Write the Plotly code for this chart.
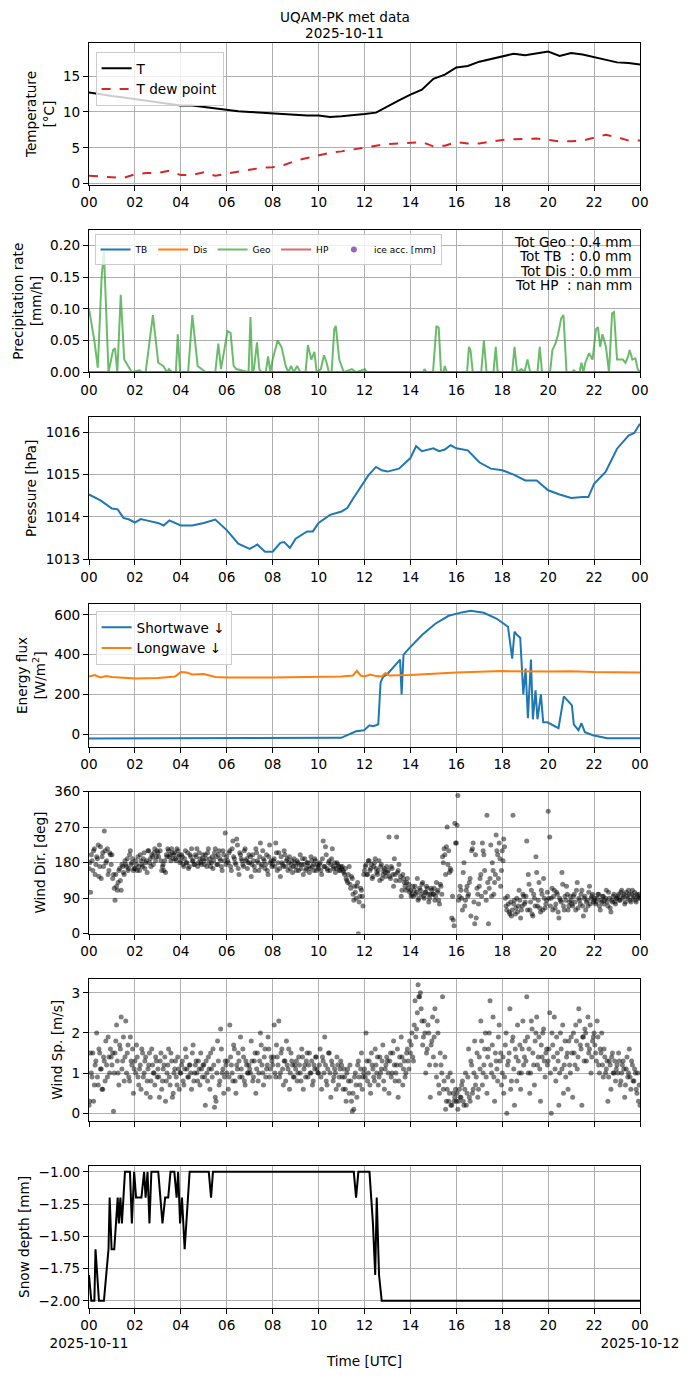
import pandas as pd
import plotly.graph_objects as go
from plotly.subplots import make_subplots

day0 = pd.Timestamp("2025-10-11 00:00")


def at(minutes):
    return day0 + pd.to_timedelta(minutes, unit="m")


# --- temperature, every 30 min ---
temp_min = list(range(0, 1441, 30))
temp = [12.7, 12.4, 12.2, 12.0, 11.8, 11.6, 11.3, 11.2, 10.9, 10.9,
        10.7, 10.5, 10.2, 10.1, 10.0, 9.9, 9.7, 9.7, 9.6, 9.5,
        9.5, 9.3, 9.4, 9.5, 9.7, 9.9, 10.8, 11.6, 12.4, 13.1,
        14.6, 15.2, 16.2, 16.4, 17.0, 17.4, 17.7, 18.1, 17.9, 18.2,
        18.4, 17.8, 18.2, 18.0, 17.6, 17.3, 16.9, 16.8, 16.6]
dew = [1.1, 1.0, 0.9, 0.8, 1.3, 1.5, 1.5, 1.8, 1.2, 1.2,
       1.6, 1.1, 1.4, 1.7, 2.0, 2.2, 2.3, 2.6, 3.2, 3.6,
       4.0, 4.3, 4.5, 4.8, 5.1, 5.3, 5.5, 5.6, 5.7, 5.8,
       5.2, 5.3, 5.8, 5.6, 5.6, 5.9, 6.1, 6.2, 6.2, 6.3,
       6.1, 5.9, 5.9, 6.0, 6.4, 6.8, 6.5, 6.0, 6.0]

# --- precipitation rate (Geo gauge) ---
geo_min = [0, 14, 23, 33, 39, 51, 63, 68, 74, 83, 92, 102, 112, 132, 140, 148,
           167, 181, 194, 204, 209, 217, 227, 232, 238, 259, 270, 284, 296, 305,
           330, 338, 345, 353, 362, 370, 378, 385, 397, 411, 417, 422, 427, 431,
           439, 445, 451, 462, 468, 474, 480, 493, 503, 514, 521, 528, 535, 544,
           552, 566, 572, 581, 589, 595, 606, 614, 621, 627, 634, 641, 645, 654,
           666, 687, 698, 721, 727, 873, 877, 882, 899, 908, 914, 920, 926, 930,
           935, 988, 993, 997, 1003, 1025, 1032, 1039, 1057, 1063, 1068, 1106,
           1112, 1119, 1130, 1138, 1146, 1153, 1172, 1178, 1184, 1205, 1211, 1219,
           1226, 1234, 1240, 1248, 1262, 1267, 1273, 1282, 1287, 1292, 1297, 1307,
           1316, 1325, 1330, 1336, 1342, 1351, 1359, 1367, 1372, 1380, 1388, 1395,
           1402, 1409, 1413, 1420, 1428, 1434, 1440]
geo = [0.100, 0.050, 0.007, 0.150, 0.190, 0.000, 0.035, 0.038, 0.000, 0.122,
       0.020, 0.010, 0.000, 0.003, 0.000, 0.000, 0.090, 0.015, 0.010, 0.000,
       0.005, 0.000, 0.000, 0.060, 0.000, 0.000, 0.090, 0.010, 0.005, 0.000,
       0.000, 0.045, 0.005, 0.035, 0.065, 0.062, 0.010, 0.005, 0.003, 0.000,
       0.000, 0.087, 0.000, 0.005, 0.047, 0.005, 0.000, 0.000, 0.025, 0.000,
       0.020, 0.050, 0.040, 0.010, 0.000, 0.010, 0.000, 0.010, 0.000, 0.000,
       0.043, 0.020, 0.032, 0.000, 0.005, 0.027, 0.015, 0.000, 0.000, 0.068,
       0.073, 0.020, 0.000, 0.005, 0.000, 0.005, 0.000, 0.000, 0.005, 0.000,
       0.000, 0.073, 0.070, 0.000, 0.000, 0.010, 0.000, 0.000, 0.040, 0.035,
       0.000, 0.000, 0.050, 0.000, 0.000, 0.040, 0.000, 0.000, 0.040, 0.000,
       0.005, 0.000, 0.020, 0.000, 0.000, 0.040, 0.000, 0.000, 0.035, 0.045,
       0.060, 0.085, 0.090, 0.000, 0.000, 0.003, 0.000, 0.000, 0.015, 0.000,
       0.015, 0.030, 0.020, 0.068, 0.071, 0.040, 0.060, 0.040, 0.000, 0.093,
       0.095, 0.020, 0.020, 0.020, 0.015, 0.025, 0.035, 0.020, 0.022, 0.005,
       0.000]
zero_min = [0, 1440]
zero_rate = [0.0, 0.0]
totals = ["Tot Geo : 0.4 mm", "Tot TB\u00a0 : 0.0 mm",
          "Tot Dis : 0.0 mm", "Tot HP\u00a0 : nan mm"]

# --- pressure ---
pres_min = [0, 30, 60, 75, 90, 105, 120, 135, 150, 180, 195, 210, 240, 270, 300,
            330, 360, 390, 420, 440, 460, 480, 500, 510, 525, 540, 570, 585, 600,
            630, 660, 675, 690, 720, 730, 750, 765, 780, 810, 840, 855, 870, 900,
            915, 930, 945, 960, 990, 1020, 1050, 1080, 1110, 1140, 1170, 1200,
            1230, 1260, 1290, 1305, 1320, 1350, 1380, 1410, 1425, 1440]
pres = [1014.53, 1014.39, 1014.20, 1014.18, 1013.98, 1013.94, 1013.87, 1013.95,
        1013.92, 1013.86, 1013.80, 1013.92, 1013.80, 1013.80, 1013.86, 1013.94,
        1013.69, 1013.37, 1013.25, 1013.35, 1013.18, 1013.18, 1013.39, 1013.41,
        1013.27, 1013.49, 1013.66, 1013.66, 1013.86, 1014.05, 1014.13, 1014.21,
        1014.43, 1014.86, 1014.98, 1015.18, 1015.10, 1015.07, 1015.14, 1015.39,
        1015.67, 1015.55, 1015.62, 1015.55, 1015.59, 1015.69, 1015.62, 1015.57,
        1015.29, 1015.14, 1015.10, 1015.00, 1014.86, 1014.86, 1014.63, 1014.53,
        1014.45, 1014.47, 1014.47, 1014.78, 1015.06, 1015.61, 1015.92, 1015.98,
        1016.20]

# --- radiation ---
sw_min = [0, 240, 480, 659, 698, 719, 733, 742, 750, 756, 762, 769, 779, 813,
          817, 822, 836, 871, 905, 940, 974, 997, 1032, 1066, 1095, 1103, 1106,
          1112, 1118, 1127, 1135, 1141, 1147, 1155, 1160, 1167, 1172, 1181, 1187,
          1198, 1227, 1241, 1262, 1267, 1279, 1287, 1296, 1317, 1354, 1440]
shortwave = [-22, -20, -20, -18, 15, 20, 45, 40, 45, 50, 260, 290, 300, 375,
             200, 400, 430, 500, 555, 595, 612, 620, 610, 580, 540, 400, 380,
             515, 500, 485, 200, 330, 80, 375, 75, 220, 75, 200, 60,
             60, 30, 190, 145, 50, 20, 55, 10, -5, -20, -20]
lw_min = [0, 15, 30, 45, 60, 120, 180, 225, 240, 255, 270, 300, 330, 360, 480,
          600, 660, 690, 700, 710, 720, 735, 750, 765, 775, 785, 840, 960, 1080,
          1200, 1260, 1320, 1440]
longwave = [290, 297, 285, 292, 287, 280, 283, 290, 312, 310, 300, 302, 288, 285,
            285, 288, 290, 295, 318, 295, 290, 300, 292, 290, 308, 295, 297, 310,
            317, 315, 316, 312, 310]

# --- wind, readings at :00,:04,:08... (a) and :02,:06,:10... (b), one row per hour ---
wind_dir_a = [
    165, 105, 185, 210, 150, 195, 225, 170, 140, 205, 260, 180, 215, 160, 200,
    200, 150, 85, 120, 130, 165, 110, 170, 150, 175, 190, 165, 210, 180, 160,
    165, 175, 195, 160, 185, 170, 205, 180, 155, 210, 190, 200, 175, 215, 195,
    205, 225, 185, 170, 160, 155, 195, 210, 200, 215, 190, 205, 185, 210, 200,
    185, 195, 170, 210, 180, 165, 200, 215, 185, 175, 195, 170, 205, 180, 190,
    185, 200, 170, 215, 190, 180, 165, 205, 195, 175, 210, 185, 160, 200, 255,
    195, 180, 210, 160, 235, 190, 175, 225, 150, 200, 185, 170, 215, 190, 180,
    180, 145, 200, 170, 215, 185, 160, 230, 175, 190, 165, 200, 150, 225, 185,
    175, 190, 230, 160, 205, 145, 180, 170, 200, 185, 160, 195, 175, 155, 190,
    170, 185, 160, 200, 175, 150, 190, 165, 180, 155, 195, 170, 160, 185, 175,
    165, 180, 150, 235, 170, 200, 160, 185, 175, 215, 165, 155, 180, 170, 160,
    165, 160, 150, 140, 130, 170, 115, 140, 85, 105, 120, 0, 95, 110, 70,
    160, 175, 150, 185, 165, 140, 170, 190, 155, 160, 135, 175, 150, 165, 145,
    155, 245, 140, 165, 120, 150, 245, 160, 135, 95, 150, 130, 110, 140, 125,
    110, 100, 95, 120, 105, 85, 115, 100, 130, 90, 105, 115, 80, 100, 110,
    100, 85, 130, 110, 75, 120, 195, 215, 150, 270, 210, 165, 40, 35, 280,
    230, 350, 95, 110, 60, 180, 85, 120, 100, 140, 210, 230, 25, 40, 100,
    120, 150, 230, 200, 105, 300, 25, 140, 95, 160, 130, 250, 200, 230, 120,
    210, 240, 90, 60, 75, 50, 45, 300, 85, 65, 55, 110, 40, 70, 95,
    80, 235, 150, 60, 110, 45, 90, 195, 70, 130, 55, 100, 140, 65, 85,
    310, 245, 90, 60, 110, 75, 100, 40, 85, 155, 70, 95, 120, 60, 80,
    85, 70, 100, 60, 130, 90, 75, 110, 45, 95, 80, 70, 120, 90, 100,
    85, 75, 90, 100, 60, 80, 95, 85, 110, 70, 90, 55, 80, 100, 75,
    90, 100, 85, 110, 95, 75, 105, 90, 100, 80, 110, 95, 85, 100, 90,
    90]
wind_dir_b = [
    180, 200, 160, 215, 175, 190, 145, 220, 195, 170, 210, 185, 150, 205, 175,
    140, 115, 150, 110, 160, 135, 175, 155, 185, 170, 160, 200, 175, 190, 165,
    185, 160, 170, 200, 175, 190, 165, 185, 210, 180, 170, 195, 205, 185, 210,
    195, 210, 160, 175, 185, 200, 215, 195, 185, 205, 200, 190, 215, 195, 180,
    200, 175, 190, 180, 205, 170, 195, 185, 175, 200, 215, 180, 190, 175, 200,
    175, 190, 205, 180, 170, 195, 185, 215, 175, 200, 190, 170, 210, 185, 175,
    185, 205, 170, 215, 195, 180, 240, 165, 205, 190, 175, 210, 185, 165, 200,
    195, 175, 185, 160, 205, 180, 195, 170, 210, 185, 175, 160, 195, 180, 170,
    185, 170, 205, 180, 165, 195, 175, 210, 170, 190, 180, 165, 185, 170, 180,
    160, 180, 175, 165, 190, 175, 160, 180, 170, 165, 185, 175, 190, 160, 170,
    175, 160, 190, 170, 220, 165, 180, 160, 190, 170, 180, 165, 175, 160, 170,
    170, 155, 165, 135, 150, 125, 145, 100, 120, 90, 130, 80, 115, 95, 150,
    170, 150, 185, 160, 175, 145, 180, 165, 150, 185, 170, 140, 160, 155, 170,
    160, 145, 170, 150, 190, 135, 155, 175, 145, 110, 140, 120, 130, 115, 105,
    95, 120, 110, 100, 140, 90, 110, 125, 95, 105, 120, 100, 90, 115, 100,
    115, 95, 105, 85, 125, 100, 180, 200, 220, 175, 155, 160, 95, 20, 230,
    275, 85, 120, 90, 155, 70, 110, 95, 130, 45, 215, 80, 200, 115, 75,
    140, 95, 210, 160, 85, 130, 115, 225, 180, 100, 150, 210, 140, 190, 160,
    185, 220, 70, 95, 55, 80, 60, 75, 50, 90, 70, 85, 60, 100, 75,
    95, 60, 125, 80, 50, 100, 70, 155, 85, 65, 110, 60, 90, 75, 105,
    90, 70, 115, 95, 65, 105, 55, 90, 80, 125, 60, 85, 100, 70, 95,
    75, 95, 80, 110, 65, 85, 100, 70, 90, 60, 85, 105, 75, 95, 80,
    90, 80, 100, 70, 85, 95, 75, 90, 80, 105, 65, 85, 95, 80, 90,
    95, 85, 105, 90, 100, 80, 95, 110, 85, 100, 90, 105, 80, 95, 100]
wind_sp_a = [
    0.2, 1.5, 0.9, 0.3, 1.2, 2.0, 0.7, 1.5, 1.1, 0.6, 1.3, 1.8, 0.9, 1.4, 1.6,
    1.2, 0.05, 1.5, 2.2, 1.0, 1.7, 2.4, 1.3, 0.8, 2.3, 1.5, 0.9, 1.9, 1.2, 0.5,
    1.3, 1.7, 0.9, 1.1, 0.6, 1.5, 1.0, 1.4, 0.8, 1.2, 0.4, 1.6, 1.0, 0.7, 1.3,
    1.1, 0.4, 1.5, 0.8, 1.2, 0.3, 1.0, 1.6, 0.7, 1.3, 0.5, 1.1, 0.9, 1.4, 0.6,
    1.0, 1.3, 0.7, 1.6, 1.1, 0.9, 1.2, 0.6, 1.7, 1.0, 1.3, 0.8, 1.1, 1.5, 0.9,
    1.2, 0.2, 1.0, 1.4, 0.6, 1.1, 1.6, 0.15, 0.3, 1.8, 0.7, 2.1, 1.0, 0.5, 1.3,
    1.0, 0.6, 2.2, 1.2, 0.8, 1.6, 0.5, 1.1, 1.3, 1.9, 0.9, 1.4, 0.7, 1.2, 1.0,
    1.1, 1.8, 0.8, 1.3, 0.5, 1.5, 1.0, 2.0, 1.2, 0.7, 1.6, 1.1, 1.9, 0.9, 1.4,
    1.2, 2.2, 0.9, 1.4, 2.3, 1.0, 1.6, 0.7, 1.3, 1.8, 1.1, 0.6, 1.5, 1.2, 0.9,
    1.1, 0.8, 1.4, 1.0, 1.6, 0.6, 1.2, 1.3, 0.9, 1.5, 1.0, 0.7, 1.2, 1.4, 1.1,
    1.0, 1.6, 0.6, 1.3, 1.9, 0.8, 1.1, 1.5, 0.4, 1.2, 0.9, 1.0, 1.4, 0.7, 1.1,
    1.2, 0.6, 0.9, 0.3, 1.1, 0.5, 0.8, 0.05, 0.1, 1.0, 0.4, 1.3, 0.7, 1.5, 0.9,
    1.1, 2.0, 0.8, 1.3, 0.5, 1.2, 0.9, 1.6, 1.0, 0.7, 1.4, 1.1, 1.7, 0.6, 1.2,
    1.3, 0.5, 1.5, 1.0, 1.8, 0.8, 1.2, 0.4, 1.4, 1.9, 0.7, 1.3, 1.0, 1.6, 1.1,
    1.5, 2.0, 1.3, 2.8, 2.1, 3.2, 2.9, 2.6, 1.7, 2.3, 1.0, 1.6, 2.0, 0.4, 1.8,
    1.4, 2.6, 0.9, 2.0, 0.5, 1.2, 2.9, 0.8, 0.1, 0.6, 0.3, 1.0, 0.2, 0.5, 0.4,
    0.3, 0.1, 0.6, 0.4, 0.8, 0.2, 1.0, 0.5, 1.6, 0.3, 1.2, 0.6, 1.8, 0.9, 0.4,
    1.4, 2.3, 0.7, 1.2, 2.0, 0.5, 1.6, 2.8, 1.0, 2.4, 0.3, 1.3, 0.8, 2.2, 1.5,
    1.0, 0.5, 1.7, 0.0, 1.3, 2.6, 0.8, 1.9, 0.2, 1.4, 2.2, 1.0, 0.6, 1.6, 1.2,
    1.8, 2.9, 1.0, 0.5, 2.3, 1.5, 0.7, 2.0, 1.2, 1.9, 0.3, 1.4, 2.1, 0.9, 1.6,
    1.3, 2.5, 0.0, 1.7, 2.4, 0.8, 1.5, 0.2, 2.0, 1.1, 0.5, 1.8, 1.4, 0.6, 1.2,
    1.9, 0.4, 1.5, 2.2, 1.1, 2.6, 1.7, 0.2, 1.9, 2.1, 1.3, 2.4, 1.6, 1.0, 1.8,
    2.0, 1.5, 2.3, 1.2, 1.6, 2.0, 0.9, 1.4, 1.1, 0.3, 1.3, 0.6, 1.5, 1.0, 0.8,
    1.2, 1.5, 0.7, 1.0, 1.3, 0.4, 1.1, 0.9, 1.6, 0.6, 1.2, 0.8, 1.0, 0.5, 0.3,
    0.2]
wind_sp_b = [
    0.3, 1.0, 1.5, 0.7, 1.3, 0.9, 1.6, 1.1, 0.6, 1.4, 0.8, 1.2, 1.9, 1.0, 1.4,
    1.5, 1.0, 1.8, 1.3, 0.7, 1.6, 1.1, 1.9, 1.4, 1.0, 1.7, 0.8, 1.3, 1.6, 1.1,
    1.0, 1.4, 0.7, 1.2, 1.6, 0.9, 1.3, 0.5, 1.1, 1.5, 0.8, 1.2, 1.0, 1.4, 0.9,
    0.9, 1.3, 0.6, 1.1, 1.4, 0.8, 1.2, 0.9, 1.5, 0.4, 1.0, 1.3, 0.7, 1.1, 1.0,
    1.2, 0.8, 1.1, 1.4, 0.9, 1.2, 1.0, 1.5, 0.8, 1.2, 1.0, 1.3, 0.7, 1.1, 1.2,
    0.9, 1.3, 0.8, 1.1, 1.5, 0.9, 1.2, 0.4, 1.0, 1.3, 0.8, 1.6, 1.1, 0.9, 1.2,
    1.3, 0.9, 1.4, 1.0, 1.7, 0.8, 1.2, 1.5, 0.9, 1.1, 1.6, 0.8, 1.3, 1.0, 1.2,
    1.0, 1.3, 0.9, 1.5, 1.1, 0.8, 1.3, 1.7, 1.0, 1.4, 0.9, 1.2, 1.6, 1.1, 1.3,
    1.4, 1.0, 1.7, 1.2, 0.9, 1.5, 1.1, 1.3, 0.8, 1.2, 1.6, 1.0, 1.3, 0.9, 1.2,
    1.3, 1.0, 1.2, 0.8, 1.4, 1.1, 0.9, 1.5, 1.2, 1.0, 1.3, 0.8, 1.1, 1.4, 1.0,
    1.2, 0.9, 1.4, 1.0, 1.2, 0.7, 1.5, 1.0, 1.3, 0.8, 1.1, 0.6, 1.2, 0.9, 1.3,
    0.9, 1.1, 0.6, 1.0, 0.8, 1.2, 0.3, 0.5, 0.9, 0.7, 1.2, 0.9, 1.1, 0.6, 1.0,
    0.9, 1.3, 1.0, 0.7, 1.5, 1.1, 0.8, 1.2, 1.4, 0.9, 1.0, 1.3, 0.8, 1.1, 1.4,
    1.0, 1.3, 0.9, 1.5, 1.2, 1.0, 1.6, 0.8, 1.2, 1.4, 1.1, 0.9, 1.5, 1.3, 1.8,
    1.7, 1.4, 2.2, 1.9, 2.5, 2.9, 3.0, 2.3, 1.9, 2.0, 1.5, 2.2, 1.2, 1.7, 2.4,
    1.9, 1.2, 2.3, 0.7, 1.5, 1.0, 0.6, 1.4, 0.3, 0.9, 0.5, 0.2, 0.8, 0.3, 0.6,
    0.5, 0.3, 0.4, 0.7, 0.3, 0.6, 0.2, 0.9, 0.4, 1.3, 0.5, 1.0, 0.7, 1.5, 0.6,
    1.1, 1.8, 1.0, 1.6, 0.9, 1.4, 2.0, 1.2, 1.7, 0.9, 1.5, 1.1, 1.9, 1.3, 0.7,
    1.4, 0.9, 2.0, 1.2, 1.5, 0.6, 1.8, 1.1, 1.6, 0.8, 1.3, 1.7, 1.0, 2.3, 1.4,
    1.3, 1.9, 1.6, 1.0, 2.1, 1.2, 1.8, 2.4, 1.4, 1.1, 1.7, 2.0, 1.3, 1.5, 1.2,
    1.6, 1.0, 2.0, 1.4, 1.1, 1.9, 1.3, 1.0, 1.6, 2.2, 1.2, 0.9, 1.5, 1.8, 1.0,
    1.5, 2.0, 1.2, 1.8, 1.4, 2.3, 1.6, 1.9, 1.3, 2.0, 1.7, 1.5, 2.2, 1.4, 1.9,
    1.7, 1.3, 1.9, 1.0, 1.5, 1.2, 1.6, 1.0, 1.3, 0.9, 1.2, 1.4, 1.0, 1.3, 1.1,
    1.0, 1.3, 0.8, 1.2, 1.1, 0.7, 1.4, 1.0, 0.9, 1.3, 0.8, 1.1, 0.6, 1.0, 0.7]
wind_time_a = pd.date_range(day0, periods=len(wind_dir_a), freq="4min")
wind_time_b = pd.date_range(day0 + pd.Timedelta(minutes=2), periods=len(wind_dir_b), freq="4min")
wind_time = wind_time_a.append(wind_time_b)

# --- snow depth ---
snow_min = [0, 6, 14, 17, 26, 39, 51, 54, 59, 66, 75, 78, 82, 86, 94, 107, 112,
            118, 123, 137, 144, 148, 153, 158, 163, 181, 192, 199, 207, 213, 223,
            229, 233, 238, 243, 250, 263, 313, 319, 324, 692, 698, 704, 733, 742,
            748, 752, 758, 765, 1440]
snow = [-1.8, -2.0, -2.0, -1.6, -2.0, -2.0, -1.6, -1.2, -1.6, -1.6, -1.2, -1.4,
        -1.2, -1.4, -1.0, -1.0, -1.4, -1.0, -1.2, -1.2, -1.0, -1.2, -1.0, -1.4,
        -1.0, -1.0, -1.4, -1.2, -1.2, -1.0, -1.0, -1.2, -1.0, -1.4, -1.2, -1.6,
        -1.0, -1.0, -1.2, -1.0, -1.0, -1.2, -1.0, -1.0, -1.4, -1.8, -1.2, -1.8,
        -2.0, -2.0]

tick_min = list(range(0, 1441, 120))
tick_text = ["00", "02", "04", "06", "08", "10", "12",
             "14", "16", "18", "20", "22", "00"]
bottom_text = ["00<br>2025-10-11"] + tick_text[1:-1] + ["00<br>2025-10-12"]

BLUE, ORANGE, GREEN, RED, PURPLE = "#1f77b4", "#ff7f0e", "#2ca02c", "#d62728", "#9467bd"
FONT = dict(family="DejaVu Sans", size=13.6, color="black")

fig = make_subplots(rows=7, cols=1, vertical_spacing=0.0356)

# panel 1
fig.add_trace(go.Scatter(x=at(temp_min), y=temp, name="T", mode="lines",
                         line=dict(color="black", width=2), legend="legend"), 1, 1)
fig.add_trace(go.Scatter(x=at(temp_min), y=dew, name="T dew point", mode="lines",
                         line=dict(color=RED, width=2, dash="dash"), legend="legend"), 1, 1)

# panel 2
fig.add_trace(go.Scatter(x=at(zero_min), y=zero_rate, name="TB", mode="lines",
                         line=dict(color=BLUE, width=2), legend="legend2"), 2, 1)
fig.add_trace(go.Scatter(x=at(zero_min), y=zero_rate, name="Dis", mode="lines",
                         line=dict(color=ORANGE, width=2), legend="legend2"), 2, 1)
fig.add_trace(go.Scatter(x=at(geo_min), y=geo, name="Geo", mode="lines", opacity=0.7,
                         line=dict(color=GREEN, width=2), legend="legend2"), 2, 1)
fig.add_trace(go.Scatter(x=at(zero_min), y=zero_rate, name="HP", mode="lines", opacity=0.7,
                         line=dict(color=RED, width=2), legend="legend2"), 2, 1)
fig.add_trace(go.Scatter(x=[None], y=[None], name="ice acc. [mm]", mode="markers",
                         marker=dict(color=PURPLE, size=6), legend="legend2"), 2, 1)

# panel 3
fig.add_trace(go.Scatter(x=at(pres_min), y=pres, mode="lines", showlegend=False,
                         line=dict(color=BLUE, width=2)), 3, 1)

# panel 4
fig.add_trace(go.Scatter(x=at(sw_min), y=shortwave, name="Shortwave \u2193", mode="lines",
                         line=dict(color=BLUE, width=2), legend="legend3"), 4, 1)
fig.add_trace(go.Scatter(x=at(lw_min), y=longwave, name="Longwave \u2193", mode="lines",
                         line=dict(color=ORANGE, width=2), legend="legend3"), 4, 1)

# panel 5, 6
fig.add_trace(go.Scatter(x=wind_time, y=wind_dir_a + wind_dir_b, mode="markers",
                         showlegend=False,
                         marker=dict(color="black", size=5, opacity=0.5)), 5, 1)
fig.add_trace(go.Scatter(x=wind_time, y=wind_sp_a + wind_sp_b, mode="markers",
                         showlegend=False,
                         marker=dict(color="black", size=5, opacity=0.5)), 6, 1)

# panel 7
fig.add_trace(go.Scatter(x=at(snow_min), y=snow, mode="lines", showlegend=False,
                         line=dict(color="black", width=2)), 7, 1)

axis_style = dict(showgrid=True, gridcolor="#b0b0b0", gridwidth=0.8, showline=True,
                  linecolor="black", linewidth=1, mirror=True, ticks="outside",
                  ticklen=5, tickcolor="black", zeroline=False, tickfont=FONT,
                  automargin=False)
for r in range(1, 8):
    fig.update_xaxes(axis_style, row=r, col=1, range=[at(0), at(1440)],
                     tickvals=at(tick_min), ticktext=bottom_text if r == 7 else tick_text,
                     showticklabels=(r != 6), tickangle=0)
    fig.update_yaxes(axis_style, row=r, col=1)

fig.update_xaxes(title=dict(text="Time [UTC]", font=FONT, standoff=6), row=7, col=1)


def ytitle(text):
    return dict(text=text, font=FONT, standoff=5)


fig.update_yaxes(row=1, col=1, range=[-0.2, 19.6], dtick=5,
                 title=ytitle("Temperature<br>[°C]"))
fig.update_yaxes(row=2, col=1, range=[0, 0.224], dtick=0.05, tickformat=".2f",
                 title=ytitle("Precipitation rate<br>[mm/h]"))
fig.update_yaxes(row=3, col=1, range=[1013, 1016.35], dtick=1,
                 title=ytitle("Pressure [hPa]"))
fig.update_yaxes(row=4, col=1, range=[-62, 652], dtick=200,
                 title=ytitle("Energy flux<br>[W/m<sup>2</sup>]"))
fig.update_yaxes(row=5, col=1, range=[0, 360], dtick=90,
                 title=ytitle("Wind Dir. [deg]"))
fig.update_yaxes(row=6, col=1, range=[-0.19, 3.35], dtick=1,
                 title=ytitle("Wind Sp. [m/s]"))
fig.update_yaxes(row=7, col=1, range=[-2.056, -0.954], dtick=0.25, tickformat=".2f",
                 title=ytitle("Snow depth [mm]"))

# totals box, one line every ~14.5 px
for i, txt in enumerate(totals):
    fig.add_annotation(text=txt, xref="x2 domain", yref="y2 domain", x=0.99,
                       y=0.99 - i * 0.102, xanchor="right", yanchor="top",
                       showarrow=False, font=FONT)

# figure title (two lines)
for txt, ypos in [("UQAM-PK met data", 1.0206), ("2025-10-11", 1.0079)]:
    fig.add_annotation(text=txt, xref="paper", yref="paper", x=0.4646, y=ypos,
                       xanchor="center", yanchor="middle", showarrow=False, font=FONT)

legend_box = dict(bgcolor="rgba(255,255,255,0.8)", bordercolor="#cccccc",
                  borderwidth=1, xanchor="left", yanchor="top")
# the page body adds an 8 px offset, so margins are shifted to compensate
fig.update_layout(
    width=690, height=1377,
    margin=dict(l=81, r=58, t=35, b=77),
    paper_bgcolor="white", plot_bgcolor="white",
    font=FONT,
    legend=dict(legend_box, x=0.012, y=0.993, font=FONT, itemwidth=30),
    legend2=dict(legend_box, x=0.01, y=0.849, orientation="h",
                 font=dict(family="DejaVu Sans", size=9, color="black"),
                 itemwidth=30, tracegroupgap=0),
    legend3=dict(legend_box, x=0.012, y=0.551, font=FONT, itemwidth=30),
)

fig.write_html("out.html")
